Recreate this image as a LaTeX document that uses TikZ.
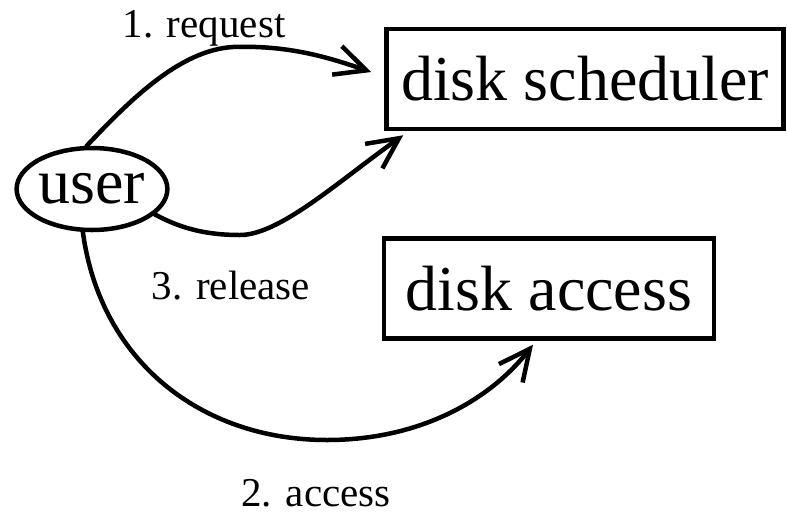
\documentclass[tikz,border=0pt]{standalone}
\usepackage{fontspec}
\setmainfont{Liberation Serif}
\usetikzlibrary{shapes.geometric,arrows.meta,calc}

\tikzset{
  bigtext/.style={font=\fontsize{64}{70}\selectfont},
  smalltext/.style={font=\fontsize{41}{46}\selectfont},
  boxnode/.style={draw, line width=4.5pt, inner sep=0pt, bigtext},
  flow/.style={line width=4.5pt, line cap=round,
    -{Straight Barb[length=31pt,width=30pt,line width=4.5pt]}}
}

\begin{document}
\begin{tikzpicture}[x=1pt,y=-1pt]
  \useasboundingbox (0,0) rectangle (787,523);

  % actors and resources
  \node[draw, ellipse, line width=4.5pt, inner sep=0pt,
        minimum width=149pt, minimum height=82pt, bigtext] (user) at (92,189) {user};
  \node[boxnode, minimum width=397pt, minimum height=100pt] (sched) at (585,79) {disk scheduler};
  \node[boxnode, minimum width=330pt, minimum height=100pt] (access) at (549,288.5) {disk access};

  % step labels
  \node[smalltext] (lreq) at (204,28) {1. request};
  \node[smalltext] (lrel) at (231,286) {3. release};
  \node[smalltext] (lacc) at (316,493) {2. access};

  % 1. request
  \draw[flow] (user.97) .. controls (130,100) and (180,50) .. (233,47)
              .. controls (290,45) and (330,58) .. ($(sched.west)+(-13,-7)$);
  % 3. release
  \draw[flow] (user.-22) .. controls (180,228) and (205,235) .. (240,235)
              .. controls (280,235) and (340,180) .. ($(sched.south west)+(19,4)$);
  % 2. access
  \draw[flow] (user.-102) .. controls (100,360) and (200,440) .. (327,440)
              .. controls (420,440) and (490,400) .. ($(access.south)+(-16,4)$);
\end{tikzpicture}
\end{document}
